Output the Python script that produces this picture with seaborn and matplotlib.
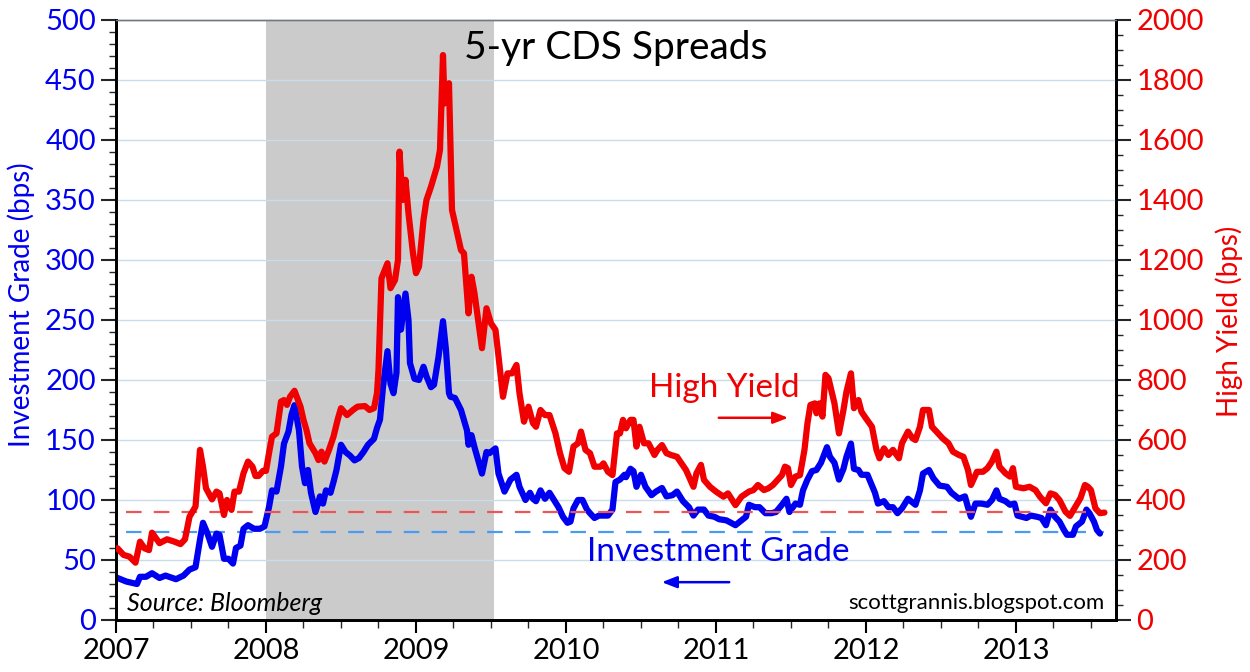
import numpy as np
import pandas as pd
import seaborn as sns
import matplotlib.pyplot as plt
from matplotlib.ticker import MultipleLocator, FixedLocator, FuncFormatter

# Investment grade 5-yr CDS spread (bps, left axis), dates as fractional years
ig_years = [
    2007.01, 2007.07, 2007.14, 2007.16, 2007.20, 2007.24, 2007.29, 2007.33, 2007.40, 2007.45,
    2007.49, 2007.53, 2007.56, 2007.58, 2007.61, 2007.64, 2007.67, 2007.69, 2007.72, 2007.75,
    2007.78, 2007.80, 2007.83, 2007.85, 2007.88, 2007.92, 2007.96, 2007.99, 2008.02, 2008.04,
    2008.07, 2008.10, 2008.12, 2008.15, 2008.17, 2008.19, 2008.22, 2008.24, 2008.26, 2008.28,
    2008.30, 2008.33, 2008.36, 2008.38, 2008.40, 2008.43, 2008.45, 2008.47, 2008.50, 2008.53,
    2008.56, 2008.59, 2008.62, 2008.65, 2008.68, 2008.72, 2008.74, 2008.76, 2008.78, 2008.81,
    2008.83, 2008.85, 2008.87, 2008.88, 2008.90, 2008.93, 2008.95, 2008.96, 2008.99, 2009.02,
    2009.05, 2009.07, 2009.10, 2009.12, 2009.15, 2009.18, 2009.20, 2009.22, 2009.23, 2009.26,
    2009.30, 2009.34, 2009.35, 2009.37, 2009.39, 2009.42, 2009.44, 2009.47, 2009.49, 2009.53,
    2009.55, 2009.59, 2009.63, 2009.67, 2009.69, 2009.73, 2009.76, 2009.78, 2009.80, 2009.83,
    2009.86, 2009.89, 2009.92, 2009.95, 2009.98, 2010.01, 2010.03, 2010.05, 2010.08, 2010.11,
    2010.14, 2010.16, 2010.19, 2010.22, 2010.25, 2010.28, 2010.31, 2010.33, 2010.36, 2010.39,
    2010.40, 2010.43, 2010.45, 2010.47, 2010.50, 2010.53, 2010.57, 2010.60, 2010.64, 2010.67,
    2010.71, 2010.74, 2010.78, 2010.82, 2010.85, 2010.88, 2010.92, 2010.95, 2010.99, 2011.02,
    2011.07, 2011.13, 2011.17, 2011.20, 2011.22, 2011.26, 2011.29, 2011.33, 2011.37, 2011.40,
    2011.44, 2011.47, 2011.49, 2011.53, 2011.56, 2011.58, 2011.61, 2011.64, 2011.67, 2011.70,
    2011.74, 2011.76, 2011.79, 2011.82, 2011.85, 2011.87, 2011.90, 2011.92, 2011.95, 2011.97,
    2012.01, 2012.04, 2012.06, 2012.08, 2012.12, 2012.15, 2012.18, 2012.21, 2012.24, 2012.28,
    2012.33, 2012.36, 2012.38, 2012.42, 2012.45, 2012.49, 2012.54, 2012.57, 2012.62, 2012.66,
    2012.68, 2012.70, 2012.73, 2012.77, 2012.81, 2012.84, 2012.87, 2012.89, 2012.93, 2012.96,
    2012.99, 2013.01, 2013.04, 2013.07, 2013.10, 2013.14, 2013.17, 2013.20, 2013.23, 2013.26,
    2013.29, 2013.32, 2013.34, 2013.38, 2013.40, 2013.44, 2013.47, 2013.49, 2013.52, 2013.54,
    2013.56,
]
ig_bps = [
    35, 32, 30, 36, 36, 39, 35, 37, 34, 37,
    42, 44, 67, 81, 72, 61, 72, 71, 51, 51,
    47, 60, 62, 76, 79, 76, 76, 78, 94, 108,
    107, 128, 147, 157, 171, 179, 158, 128, 114, 125,
    106, 90, 103, 97, 108, 106, 115, 125, 146, 140,
    137, 133, 135, 140, 146, 151, 160, 167, 194, 224,
    197, 189, 206, 269, 242, 272, 250, 214, 201, 200,
    211, 203, 194, 196, 219, 249, 225, 189, 186, 185,
    175, 158, 146, 154, 144, 131, 122, 140, 139, 143,
    122, 107, 117, 121, 111, 100, 106, 101, 99, 108,
    101, 106, 100, 94, 86, 81, 82, 93, 100, 100,
    92, 89, 85, 87, 87, 87, 92, 115, 117, 121,
    119, 126, 124, 111, 121, 111, 104, 107, 110, 103,
    104, 107, 99, 94, 87, 92, 92, 87, 86, 84,
    83, 79, 83, 86, 96, 94, 94, 89, 89, 90,
    96, 101, 90, 97, 96, 108, 117, 124, 125, 131,
    144, 136, 131, 117, 126, 136, 147, 126, 125, 121,
    121, 112, 106, 97, 99, 94, 94, 89, 93, 101,
    96, 108, 122, 125, 118, 112, 111, 106, 101, 103,
    94, 86, 97, 97, 96, 100, 108, 101, 99, 96,
    97, 87, 86, 85, 87, 86, 85, 79, 92, 86,
    82, 75, 71, 71, 78, 82, 92, 89, 82, 75,
    72,
]

# High yield 5-yr CDS spread (bps, right axis)
hy_years = [
    2007.01, 2007.05, 2007.09, 2007.13, 2007.16, 2007.19, 2007.22, 2007.24, 2007.29, 2007.34,
    2007.39, 2007.43, 2007.46, 2007.49, 2007.53, 2007.56, 2007.58, 2007.60, 2007.64, 2007.67,
    2007.69, 2007.72, 2007.74, 2007.76, 2007.77, 2007.79, 2007.82, 2007.85, 2007.88, 2007.91,
    2007.93, 2007.95, 2007.98, 2008.00, 2008.02, 2008.04, 2008.07, 2008.10, 2008.12, 2008.14,
    2008.16, 2008.19, 2008.23, 2008.25, 2008.27, 2008.29, 2008.33, 2008.35, 2008.37, 2008.39,
    2008.42, 2008.45, 2008.48, 2008.50, 2008.54, 2008.58, 2008.61, 2008.66, 2008.69, 2008.72,
    2008.74, 2008.75, 2008.77, 2008.81, 2008.83, 2008.86, 2008.88, 2008.89, 2008.91, 2008.93,
    2008.95, 2008.98, 2009.00, 2009.02, 2009.05, 2009.07, 2009.10, 2009.14, 2009.16, 2009.18,
    2009.19, 2009.22, 2009.24, 2009.27, 2009.30, 2009.32, 2009.35, 2009.37, 2009.39, 2009.42,
    2009.44, 2009.47, 2009.50, 2009.53, 2009.55, 2009.58, 2009.61, 2009.64, 2009.67, 2009.69,
    2009.72, 2009.75, 2009.78, 2009.80, 2009.83, 2009.86, 2009.89, 2009.93, 2009.96, 2009.99,
    2010.02, 2010.05, 2010.08, 2010.10, 2010.13, 2010.16, 2010.19, 2010.23, 2010.25, 2010.28,
    2010.31, 2010.34, 2010.36, 2010.38, 2010.40, 2010.43, 2010.45, 2010.47, 2010.49, 2010.52,
    2010.55, 2010.59, 2010.61, 2010.64, 2010.67, 2010.70, 2010.74, 2010.77, 2010.80, 2010.85,
    2010.87, 2010.90, 2010.92, 2010.96, 2011.00, 2011.05, 2011.08, 2011.13, 2011.17, 2011.22,
    2011.25, 2011.28, 2011.32, 2011.35, 2011.38, 2011.42, 2011.44, 2011.46, 2011.48, 2011.50,
    2011.53, 2011.56, 2011.59, 2011.61, 2011.63, 2011.66, 2011.67, 2011.69, 2011.71, 2011.73,
    2011.75, 2011.79, 2011.82, 2011.85, 2011.87, 2011.90, 2011.92, 2011.95, 2011.97, 2012.00,
    2012.04, 2012.07, 2012.09, 2012.12, 2012.15, 2012.18, 2012.22, 2012.24, 2012.28, 2012.31,
    2012.33, 2012.36, 2012.38, 2012.42, 2012.44, 2012.47, 2012.51, 2012.55, 2012.58, 2012.62,
    2012.65, 2012.68, 2012.70, 2012.74, 2012.78, 2012.81, 2012.84, 2012.87, 2012.89, 2012.93,
    2012.96, 2012.98, 2013.00, 2013.05, 2013.09, 2013.13, 2013.16, 2013.20, 2013.23, 2013.26,
    2013.29, 2013.33, 2013.36, 2013.39, 2013.43, 2013.46, 2013.48, 2013.50, 2013.53, 2013.56,
    2013.59,
]
hy_bps = [
    239, 217, 211, 191, 261, 239, 233, 291, 256, 269,
    261, 253, 269, 344, 378, 567, 511, 439, 402, 428,
    422, 350, 400, 378, 367, 428, 428, 489, 528, 511,
    480, 480, 497, 497, 556, 611, 622, 728, 733, 717,
    744, 764, 711, 667, 633, 589, 556, 533, 561, 528,
    567, 611, 672, 706, 683, 700, 711, 713, 700, 706,
    756, 833, 1139, 1189, 1106, 1133, 1200, 1561, 1400, 1467,
    1356, 1222, 1156, 1178, 1333, 1400, 1444, 1511, 1567, 1883,
    1722, 1789, 1367, 1300, 1233, 1222, 1022, 1144, 1089, 978,
    906, 1039, 989, 967, 880, 744, 822, 822, 850, 756,
    661, 711, 656, 644, 700, 683, 683, 622, 556, 506,
    494, 578, 589, 628, 567, 556, 511, 511, 522, 494,
    483, 622, 622, 667, 639, 667, 667, 578, 644, 589,
    589, 550, 567, 583, 556, 550, 544, 522, 500, 444,
    489, 517, 467, 444, 428, 411, 422, 383, 411, 428,
    433, 450, 433, 439, 450, 472, 483, 511, 506, 450,
    478, 483, 567, 656, 717, 722, 689, 722, 678, 817,
    806, 722, 622, 700, 761, 822, 706, 733, 694, 672,
    644, 567, 539, 572, 550, 567, 539, 589, 628, 606,
    600, 644, 700, 700, 644, 628, 606, 589, 561, 550,
    544, 500, 450, 494, 494, 506, 528, 561, 511, 489,
    478, 506, 444, 439, 444, 433, 411, 389, 422, 417,
    400, 361, 347, 372, 406, 450, 444, 433, 372, 356,
    358,
]

recession = (2008.0, 2009.52)
ig_ref = 73.5    # blue dashed reference, left scale
hy_ref = 360     # red dashed reference, right scale
ref_span = (2007.07, 2013.59)

years = list(range(2007, 2014))

ig = pd.DataFrame({"year": ig_years, "bps": ig_bps})
hy = pd.DataFrame({"year": hy_years, "bps": hy_bps})

sns.set_style("white")
plt.rcParams["font.family"] = ["Lato", "DejaVu Sans"]

BLUE = "#0000f0"
RED = "#f00000"

fig = plt.figure(figsize=(12.5, 6.72), dpi=100)
ax = fig.add_axes([0.0928, 0.0774, 0.8, 0.8929])
ax2 = ax.twinx()

ax.axvspan(*recession, color="#cbcbcb", zorder=0, lw=0)
ax.set_axisbelow(False)
ax.yaxis.grid(True, color="#c9dcec", lw=1.0, zorder=0.5)

sns.lineplot(data=ig, x="year", y="bps", ax=ax, color=BLUE, lw=4.5,
             estimator=None, zorder=3)
sns.lineplot(data=hy, x="year", y="bps", ax=ax2, color=RED, lw=4.5,
             estimator=None, zorder=3)

ax.hlines(ig_ref, *ref_span, colors="#4a9cf0", lw=1.6, linestyles=(0, (7, 5.5)), zorder=2)
ax2.hlines(hy_ref, *ref_span, colors="#ee5555", lw=1.6, linestyles=(0, (7, 5.5)), zorder=2)

ax.set_xlim(2007.0, 2013.667)
ax.set_ylim(0, 500)
ax2.set_ylim(0, 2000)

ax.xaxis.set_major_locator(FixedLocator(years))
ax.xaxis.set_major_formatter(FuncFormatter(lambda v, p: f"{int(round(v))}"))
ax.xaxis.set_minor_locator(MultipleLocator(0.25))
ax.yaxis.set_major_locator(MultipleLocator(50))
ax.yaxis.set_minor_locator(MultipleLocator(10))
ax2.yaxis.set_major_locator(MultipleLocator(200))
ax2.yaxis.set_minor_locator(MultipleLocator(50))

ax.tick_params(axis="x", which="major", length=9, width=1.5, labelsize=21, pad=4, colors="black")
ax.tick_params(axis="x", which="minor", length=6, width=1.0)
ax.tick_params(axis="y", which="major", length=11, width=1.5, labelsize=21, labelcolor=BLUE, left=True)
ax.tick_params(axis="y", which="minor", length=5, width=1.0, left=True)
ax2.tick_params(axis="y", which="major", length=11, width=1.5, labelsize=21, labelcolor=RED, right=True)
ax2.tick_params(axis="y", which="minor", length=5, width=1.0, right=True)
ax.tick_params(axis="x", which="both", bottom=True)

for a in (ax, ax2):
    for side in ("left", "bottom", "right"):
        a.spines[side].set_color("black")
        a.spines[side].set_linewidth(2.0)
    a.spines["top"].set_color("#707880")
    a.spines["top"].set_linewidth(1.0)

ax.set_xlabel("")
ax.set_ylabel("Investment Grade (bps)", color=BLUE, fontsize=20)
ax.yaxis.set_label_coords(-0.081, 0.525)
ax2.set_ylabel("High Yield (bps)", color=RED, fontsize=20)
ax2.yaxis.set_label_coords(1.099, 0.497)

ax.text(0.5, 0.953, "5-yr CDS Spreads", transform=ax.transAxes, ha="center", va="center",
        fontsize=28, color="black", zorder=5)
ax.text(0.608, 0.387, "High Yield", transform=ax.transAxes, ha="center", va="center",
        fontsize=24, color=RED, zorder=5)
ax.annotate("", xy=(0.675, 0.337), xytext=(0.600, 0.337), xycoords="axes fraction",
            arrowprops=dict(arrowstyle="-|>,head_length=0.9,head_width=0.35", color=RED, lw=1.8))
ax.text(0.602, 0.113, "Investment Grade", transform=ax.transAxes, ha="center", va="center",
        fontsize=24, color=BLUE, zorder=5)
ax.annotate("", xy=(0.543, 0.063), xytext=(0.616, 0.063), xycoords="axes fraction",
            arrowprops=dict(arrowstyle="-|>,head_length=0.9,head_width=0.35", color=BLUE, lw=1.8))
ax.text(0.011, 0.028, "Source: Bloomberg", transform=ax.transAxes, ha="left", va="center",
        fontsize=18, style="italic", color="black", zorder=5)
ax.text(0.989, 0.028, "scottgrannis.blogspot.com", transform=ax.transAxes, ha="right",
        va="center", fontsize=16, color="black", zorder=5)

fig.savefig("out.png", dpi=100)
